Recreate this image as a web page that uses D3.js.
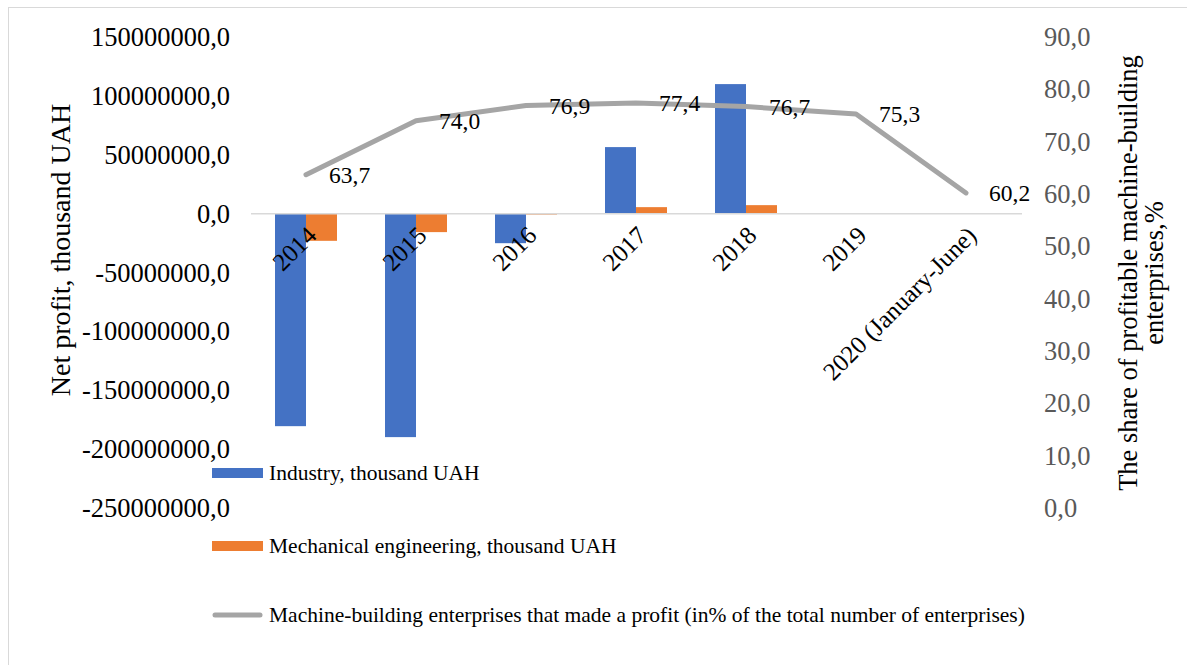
<!DOCTYPE html>
<html>
<head>
<meta charset="utf-8">
<script src="https://cdn.jsdelivr.net/npm/d3@7"></script>
<style>
  body { margin: 0; background: #fff; }
  text { font-family: "Liberation Serif", "Times New Roman", serif; }
</style>
</head>
<body>
<svg id="chart" width="1187" height="665"></svg>
<script>
"use strict";

// Données
var years = ["2014", "2015", "2016", "2017", "2018", "2019", "2020 (January-June)"];
var industry = [-180500000, -189800000, -25100000, 56500000, 110000000, 0, 0];
var mechanical = [-23100000, -15700000, -800000, 5500000, 7200000, 0, 0];
var profitShare = [63.7, 74.0, 76.9, 77.4, 76.7, 75.3, 60.2];

var leftTicks = [-250000000, -200000000, -150000000, -100000000, -50000000, 0, 50000000, 100000000, 150000000];
var rightTicks = [0, 10, 20, 30, 40, 50, 60, 70, 80, 90];

var seriesNames = ["Industry, thousand UAH", "Mechanical engineering, thousand UAH"];
var lineName = "Machine-building enterprises that made a profit (in% of the total number of enterprises)";

var locale = d3.formatLocale({decimal: ",", thousands: "", grouping: [3], currency: ["", ""], minus: "-"});
var fmt = locale.format(".1f");

var svg = d3.select("#chart");

var plot = {left: 251, right: 1021, top: 37, bottom: 508};

var x = d3.scaleBand()
  .domain(years)
  .range([plot.left, plot.right])
  .paddingInner(48 / 110)
  .paddingOuter(24 / 110);

var xInner = d3.scaleBand()
  .domain([0, 1])
  .range([0, x.bandwidth()]);

var y = d3.scaleLinear().domain([-250000000, 150000000]).range([plot.bottom, plot.top]);
var y2 = d3.scaleLinear().domain([0, 90]).range([plot.bottom, plot.top]);

var colors = ["#4472c4", "#ed7d31"];

// cadre (sort de l'image à droite et en bas)
svg.append("rect")
  .attr("x", 8.5).attr("y", 7.5)
  .attr("width", 1190).attr("height", 670)
  .attr("fill", "none")
  .attr("stroke", "#d9d9d9");

// barres
var series = [industry, mechanical];
series.forEach(function(values, s) {
  svg.append("g").selectAll("rect")
    .data(values)
    .enter()
    .append("rect")
      .attr("x", function(d, i) { return x(years[i]) + xInner(s); })
      .attr("y", function(d) { return y(Math.max(d, 0)); })
      .attr("width", xInner.bandwidth())
      .attr("height", function(d) { return Math.abs(y(d) - y(0)); })
      .attr("fill", colors[s]);
});

// ligne du zéro
svg.append("line")
  .attr("x1", plot.left).attr("x2", plot.right + 1)
  .attr("y1", y(0)).attr("y2", y(0))
  .attr("stroke", "#d9d9d9")
  .attr("stroke-width", 1.5);

// axe gauche
svg.append("g").selectAll("text")
  .data(leftTicks)
  .enter()
  .append("text")
    .attr("x", 230)
    .attr("y", function(d) { return y(d); })
    .attr("text-anchor", "end")
    .attr("dominant-baseline", "central")
    .style("font-size", "26.5px")
    .attr("fill", "#000")
    .text(function(d) { return fmt(d); });

// axe droit
svg.append("g").selectAll("text")
  .data(rightTicks)
  .enter()
  .append("text")
    .attr("x", 1044)
    .attr("y", function(d) { return y2(d); })
    .attr("text-anchor", "start")
    .attr("dominant-baseline", "central")
    .style("font-size", "26.5px")
    .attr("fill", "#595959")
    .text(function(d) { return fmt(d); });

// étiquettes des catégories
svg.append("g").selectAll("text")
  .data(years)
  .enter()
  .append("text")
    .attr("transform", function(d) {
      return "translate(" + (x(d) + x.bandwidth() / 2 + 6) + "," + 231 + ") rotate(-45)";
    })
    .attr("text-anchor", "end")
    .attr("dominant-baseline", "central")
    .style("font-size", "25px")
    .text(function(d) { return d; });

// ligne
var line = d3.line()
  .x(function(d, i) { return x(years[i]) + x.bandwidth() / 2; })
  .y(function(d) { return y2(d); });

svg.append("path")
  .datum(profitShare)
  .attr("d", line)
  .attr("fill", "none")
  .attr("stroke", "#a5a5a5")
  .attr("stroke-width", 5)
  .attr("stroke-linecap", "round")
  .attr("stroke-linejoin", "round");

svg.append("g").selectAll("text")
  .data(profitShare)
  .enter()
  .append("text")
    .attr("x", function(d, i) { return x(years[i]) + x.bandwidth() / 2 + 23; })
    .attr("y", function(d) { return y2(d); })
    .attr("dominant-baseline", "central")
    .style("font-size", "23.5px")
    .text(function(d) { return fmt(d); });

// titres des axes
svg.append("text")
  .attr("transform", "translate(60,250) rotate(-90)")
  .attr("text-anchor", "middle")
  .attr("dominant-baseline", "central")
  .style("font-size", "28px")
  .text("Net profit,  thousand UAH");

var rightTitle = svg.append("text")
  .attr("transform", "translate(1128,273) rotate(-90)")
  .attr("text-anchor", "middle")
  .attr("dominant-baseline", "central")
  .style("font-size", "26.5px");
rightTitle.append("tspan").attr("x", 0).attr("dy", 0).text("The share of profitable machine-building");
rightTitle.append("tspan").attr("x", 0).attr("dy", 26).text("enterprises,%");

// légende
var legend = svg.append("g");
seriesNames.forEach(function(name, i) {
  var ly = [473, 546][i];
  legend.append("rect")
    .attr("x", 212).attr("y", ly - 5)
    .attr("width", 51).attr("height", 10)
    .attr("fill", colors[i]);
  legend.append("text")
    .attr("x", 269).attr("y", ly)
    .attr("dominant-baseline", "central")
    .style("font-size", "21.5px")
    .text(name);
});
legend.append("line")
  .attr("x1", 215).attr("x2", 260)
  .attr("y1", 615).attr("y2", 615)
  .attr("stroke", "#a5a5a5")
  .attr("stroke-width", 5)
  .attr("stroke-linecap", "round");
legend.append("text")
  .attr("x", 269).attr("y", 615)
  .attr("dominant-baseline", "central")
  .style("font-size", "21.5px")
  .text(lineName);
</script>
</body>
</html>
